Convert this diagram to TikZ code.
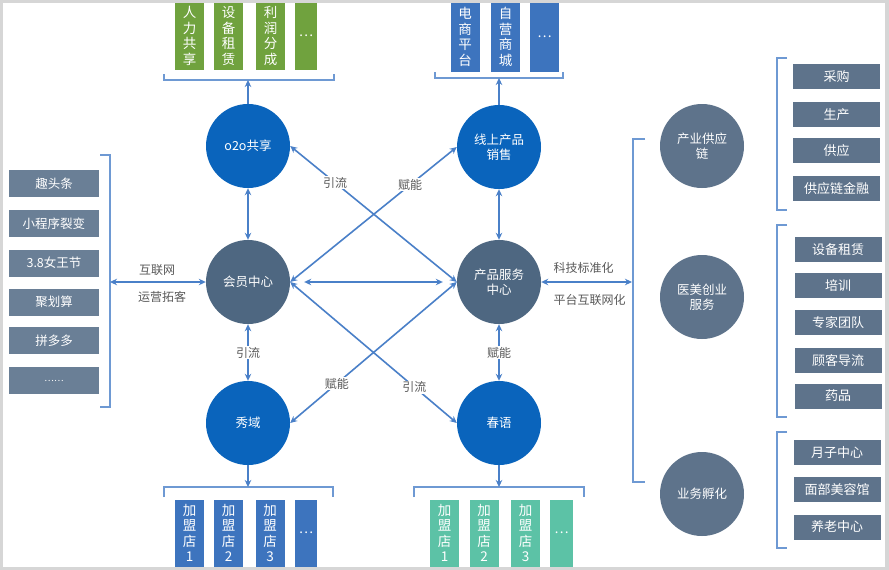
\documentclass[tikz,border=0pt]{standalone}
\usepackage{fontspec}
\setmainfont{Noto Sans CJK SC}
\usetikzlibrary{arrows.meta}
\definecolor{cblue}{HTML}{0A64BC}
\definecolor{cgray}{HTML}{4E6781}
\definecolor{rgray}{HTML}{5E738B}
\definecolor{lgray}{HTML}{6A7F96}
\definecolor{bgreen}{HTML}{70A23E}
\definecolor{bblue}{HTML}{3D74BE}
\definecolor{bteal}{HTML}{5CC2A6}
\definecolor{lnc}{HTML}{4A80C8}
\definecolor{txg}{HTML}{595959}
\definecolor{frm}{HTML}{D6D6D6}
\begin{document}
\begin{tikzpicture}[x=1pt,y=-1pt,
  circB/.style={circle,fill=cblue,minimum size=84pt,inner sep=0pt,text=white,align=center,font=\fontsize{12.5}{15}\selectfont},
  circG/.style={circle,fill=cgray,minimum size=84pt,inner sep=0pt,text=white,align=center,font=\fontsize{12.5}{15}\selectfont},
  circR/.style={circle,fill=rgray,minimum size=84pt,inner sep=0pt,text=white,align=center,font=\fontsize{12.5}{15}\selectfont},
  vbox/.style={rectangle,inner sep=0pt,minimum width=29pt,minimum height=67pt,text=white,align=center,font=\fontsize{13.5}{15.5}\selectfont},
  lbox/.style={rectangle,fill=lgray,inner sep=0pt,minimum width=90pt,minimum height=27pt,text=white,font=\fontsize{12.5}{14}\selectfont},
  rbox/.style={rectangle,fill=rgray,inner sep=0pt,minimum width=87pt,minimum height=25pt,text=white,font=\fontsize{13}{14}\selectfont},
  lbl/.style={fill=white,inner sep=1pt,text=txg,font=\fontsize{12}{14}\selectfont},
  plbl/.style={inner sep=0pt,text=txg,font=\fontsize{12}{14}\selectfont},
  conn/.style={draw=lnc,line width=1.6pt},
  arr/.style={conn,-{Stealth[length=7pt,width=6.5pt]}},
  darr/.style={conn,{Stealth[length=7pt,width=6.5pt]}-{Stealth[length=7pt,width=6.5pt]}},
  brk/.style={draw=lnc!80,line width=1.1pt}]
% frame
\fill[frm] (0,0) rectangle (889,570);
\fill[white] (2.5,2.5) rectangle (885,566.5);
\useasboundingbox (0,0) rectangle (889,570);

% circles
\node[circB] (o2o) at (248,146) {o2o共享};
\node[circB] (xs) at (499,147) {线上产品\\销售};
\node[circG] (hy) at (248,282) {会员中心};
\node[circG] (cp) at (499,282) {产品服务\\中心};
\node[circB] (xy) at (248,423) {秀域};
\node[circB] (cy) at (499,423) {春语};

% top green boxes
\node[vbox,fill=bgreen] (g1) at (189.5,36) {人\\力\\共\\享};
\node[vbox,fill=bgreen] (g2) at (228.5,36) {设\\备\\租\\赁};
\node[vbox,fill=bgreen] (g3) at (270.5,36) {利\\润\\分\\成};
\node[vbox,fill=bgreen,minimum width=22pt] (g4) at (306,36) {…};
% top blue boxes
\node[vbox,fill=bblue,minimum height=69pt] (b1) at (465,37) {电\\商\\平\\台};
\node[vbox,fill=bblue,minimum height=69pt] (b2) at (505.5,37) {自\\营\\商\\城};
\node[vbox,fill=bblue,minimum height=69pt] (b3) at (544.5,37) {…};
% bottom blue boxes
\node[vbox,fill=bblue] (c1) at (189.5,533) {加\\盟\\店\\1};
\node[vbox,fill=bblue] (c2) at (228.5,533) {加\\盟\\店\\2};
\node[vbox,fill=bblue] (c3) at (270,533) {加\\盟\\店\\3};
\node[vbox,fill=bblue,minimum width=22pt] (c4) at (306,533) {…};
% bottom teal boxes
\node[vbox,fill=bteal] (t1) at (444.5,533) {加\\盟\\店\\1};
\node[vbox,fill=bteal] (t2) at (484,533) {加\\盟\\店\\2};
\node[vbox,fill=bteal] (t3) at (525.5,533) {加\\盟\\店\\3};
\node[vbox,fill=bteal,minimum width=23pt] (t4) at (561.5,533) {…};

% brackets top / bottom
\draw[brk] (164,74) -- (164,80) -- (334,80) -- (334,74);
\draw[brk] (435,72) -- (435,78) -- (563,78) -- (563,72);
\draw[brk] (164,497) -- (164,487) -- (333,487) -- (333,497);
\draw[brk] (414,497) -- (414,487) -- (584,487) -- (584,497);
\coordinate (tb1) at (248,80);
\coordinate (tb2) at (499,78);
\coordinate (bb1) at (248,487);
\coordinate (bb2) at (499,487);
\draw[arr] (o2o) -- (tb1);
\draw[arr] (xs) -- (tb2);
\draw[arr] (xy) -- (bb1);
\draw[arr] (cy) -- (bb2);

% left list
\node[lbox] (l1) at (54,183.5) {趣头条};
\node[lbox] (l2) at (54,223.5) {小程序裂变};
\node[lbox] (l3) at (54,263) {3.8女王节};
\node[lbox] (l4) at (54,302) {聚划算};
\node[lbox] (l5) at (54,340.5) {拼多多};
\node[lbox] (l6) at (54,380.5) {\fontsize{9}{10}\selectfont ……};
\draw[brk] (100,155) -- (110,155) -- (110,407) -- (100,407);
\coordinate (lb) at (110,282);
\draw[darr] (lb) -- (hy);
\node[plbl] (t_hlw) at (157,270) {互联网};
\node[plbl] (t_yy) at (162,297) {运营拓客};

% vertical connections
\draw[darr] (o2o) -- (hy);
\draw[darr] (xs) -- (cp);
\draw[darr] (hy) -- node[lbl] (t_yl1) {引流} (xy);
\draw[darr] (cp) -- node[lbl] (t_fn1) {赋能} (cy);
\draw[darr,shorten <=14pt,shorten >=14pt] (hy) -- (cp);

% diagonals
\draw[darr] (hy.east) -- node[lbl,pos=0.72] (t_fn2) {赋能} (xs.west);
\draw[darr] (o2o.east) -- node[lbl,pos=0.27] (t_yl2) {引流} (cp.west);
\draw[darr] (hy.east) -- node[lbl,pos=0.745] (t_yl3) {引流} (cy.west);
\draw[darr] (cp.west) -- node[lbl,pos=0.72] (t_fn3) {赋能} (xy.east);

% right side
\draw[brk] (645,139) -- (633,139) -- (633,482) -- (645,482);
\coordinate (rb) at (632,282);
\draw[darr] (cp) -- (rb);
\node[plbl] (t_kj) at (583.5,268) {科技标准化};
\node[plbl] (t_pt) at (589.5,300) {平台互联网化};

\node[circR] (r1) at (702,146) {产业供应\\链};
\node[circR] (r2) at (702,297) {医美创业\\服务};
\node[circR] (r3) at (702,494) {业务孵化};

\draw[brk] (787,58) -- (777,58) -- (777,210) -- (787,210);
\draw[brk] (787,225) -- (777,225) -- (777,417) -- (787,417);
\draw[brk] (787,432) -- (777,432) -- (777,548) -- (787,548);

\node[rbox] (s1) at (836.5,76.5) {采购};
\node[rbox] (s2) at (836.5,114.5) {生产};
\node[rbox] (s3) at (836.5,150.5) {供应};
\node[rbox] (s4) at (836.5,188.5) {供应链金融};
\node[rbox] (m1) at (838,249.5) {设备租赁};
\node[rbox] (m2) at (838,285.5) {培训};
\node[rbox] (m3) at (838,322.5) {专家团队};
\node[rbox] (m4) at (838,360.5) {顾客导流};
\node[rbox] (m5) at (838,396) {药品};
\node[rbox] (n1) at (837,452.5) {月子中心};
\node[rbox] (n2) at (837,489.5) {面部美容馆};
\node[rbox] (n3) at (837,527) {养老中心};
\end{tikzpicture}
\end{document}
